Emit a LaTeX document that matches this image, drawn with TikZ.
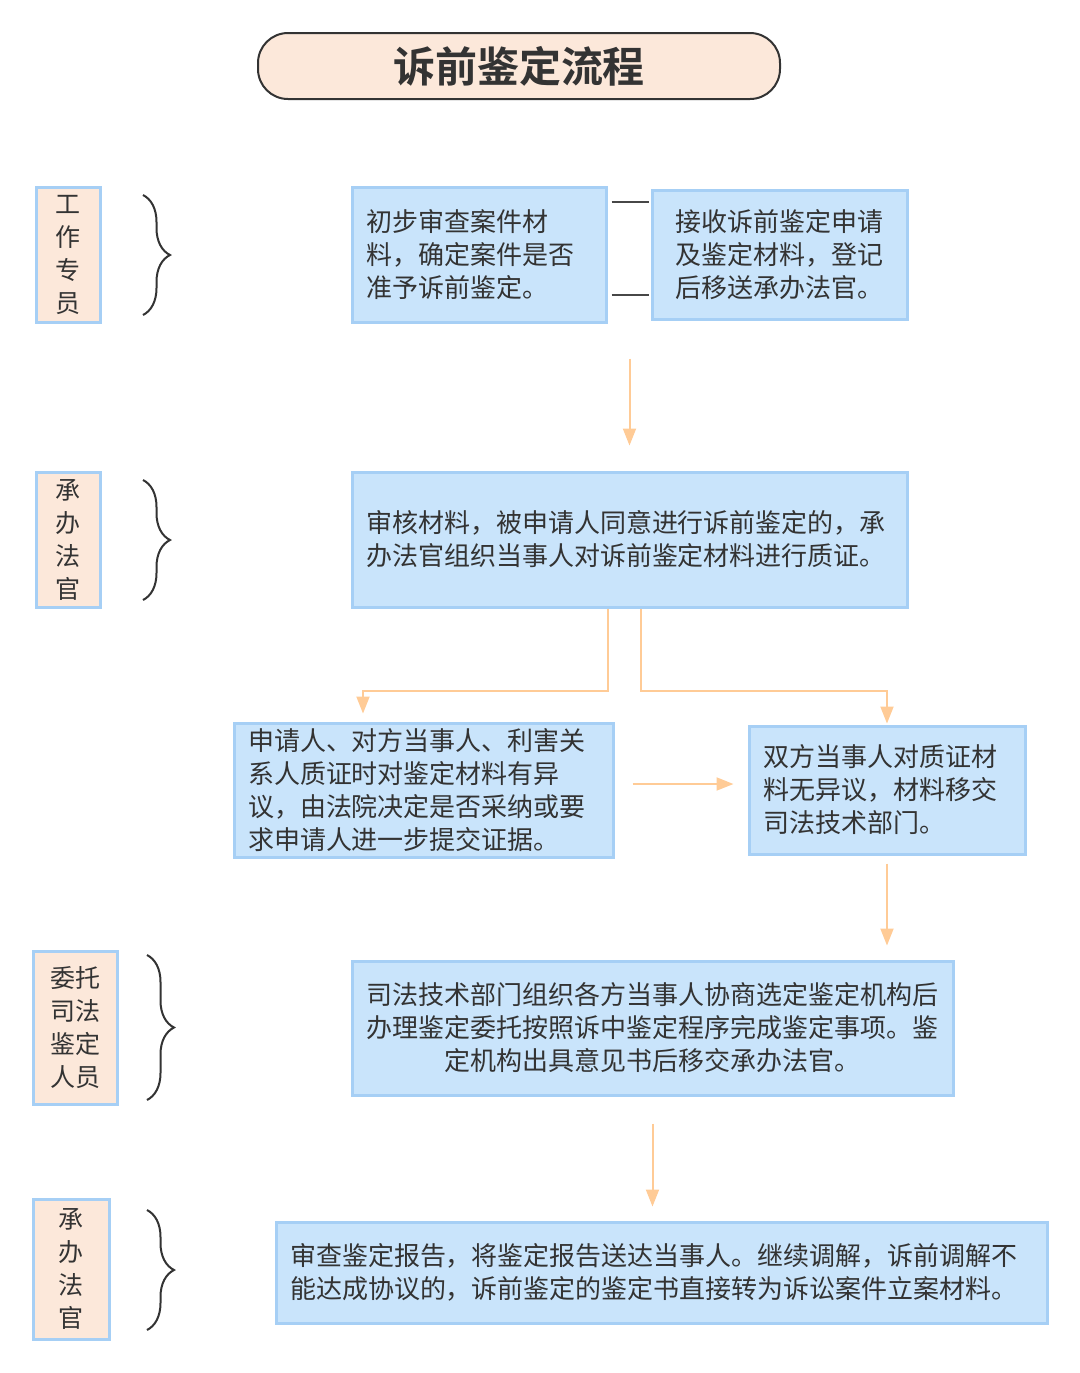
\documentclass[tikz,border=0pt]{standalone}
\usepackage{fontspec}
\setmainfont{Noto Sans CJK SC}[BoldFont={Noto Sans CJK SC Bold}]
\usetikzlibrary{arrows.meta,decorations.pathreplacing}
\definecolor{boxblue}{HTML}{C9E4FB}
\definecolor{lineblue}{HTML}{A6CFF5}
\definecolor{peach}{HTML}{FCE8DA}
\definecolor{flowline}{HTML}{FFCB96}
\definecolor{ink}{HTML}{333333}

\begin{document}
\begin{tikzpicture}[
	x=0.5pt,y=-0.5pt,
	titlenode/.style={
		rectangle,minimum width=261pt,minimum height=33pt,rounded corners=15pt,
		draw=ink,line width=1pt,fill=peach,text=ink,
		font=\fontsize{21}{24}\selectfont\bfseries},
	rolenode/.style={
		rectangle,draw=lineblue,line width=1.5pt,fill=peach,text=ink,
		align=center,inner sep=0pt,font=\fontsize{12.5}{16.5}\selectfont},
	stepnode/.style={
		rectangle,draw=lineblue,line width=1.5pt,fill=boxblue,text=ink,
		align=left,inner xsep=7pt,inner ysep=0pt,
		font=\fontsize{13}{16.5}\selectfont},
	flow/.style={-{Triangle[width=6.5pt,length=8.5pt]},line width=1pt,draw=flowline},
	tie/.style={line width=1pt,draw=ink!90},
	bracket/.style={decorate,decoration={brace,amplitude=13.5pt},line width=1pt,draw=ink}
	]
	\useasboundingbox (0,0) rectangle (1080,1373);
	% title
	\node [titlenode] (title) at (519,66) {诉前鉴定流程};
	% roles
	\node [rolenode, minimum width=32pt, minimum height=67.5pt] (staff) at (68,254.5) {工\\作\\专\\员};
	\node [rolenode, minimum width=32pt, minimum height=67.5pt] (judge) at (68,539.5) {承\\办\\法\\官};
	\node [rolenode, minimum width=42pt, minimum height=76.5pt] (expert) at (75,1027.5) {委托\\司法\\鉴定\\人员};
	\node [rolenode, minimum width=38pt, minimum height=70pt] (judgeb) at (71,1269) {承\\办\\法\\官};
	\draw [bracket] (143,195) -- (143,315);
	\draw [bracket] (143,480) -- (143,600);
	\draw [bracket] (147,955) -- (147,1100);
	\draw [bracket] (147,1210) -- (147,1330);
	% steps
	\node [stepnode, text width=113pt, minimum height=67.5pt] (check) at (479,254.5)
		{初步审查案件材\\料，确定案件是否\\准予诉前鉴定。};
	\node [stepnode, inner xsep=11.75pt, text width=104pt, minimum height=64.5pt] (receive) at (779.5,254.5)
		{接收诉前鉴定申请\\及鉴定材料，登记\\后移送承办法官。};
	\node [stepnode, text width=263.5pt, minimum height=67.5pt] (review) at (629.5,539.5)
		{审核材料，被申请人同意进行诉前鉴定的，承\\办法官组织当事人对诉前鉴定材料进行质证。};
	\node [stepnode, text width=175.5pt, minimum height=67pt] (dispute) at (423.5,790)
		{申请人、对方当事人、利害关\\系人质证时对鉴定材料有异\\议，由法院决定是否采纳或要\\求申请人进一步提交证据。};
	\node [stepnode, text width=124pt, minimum height=64pt] (agree) at (887,790)
		{双方当事人对质证材\\料无异议，材料移交\\司法技术部门。};
	\node [stepnode, align=center, text width=286.5pt, minimum height=67pt] (entrust) at (652.5,1028)
		{司法技术部门组织各方当事人协商选定鉴定机构后\\办理鉴定委托按照诉中鉴定程序完成鉴定事项。鉴\\定机构出具意见书后移交承办法官。};
	\node [stepnode, text width=371.5pt, minimum height=50.5pt] (report) at (661.5,1272.5)
		{审查鉴定报告，将鉴定报告送达当事人。继续调解，诉前调解不\\能达成协议的，诉前鉴定的鉴定书直接转为诉讼案件立案材料。};
	% links
	\draw [tie, shorten <=2pt, shorten >=1pt] ([yshift=26.25pt]check.east) -- ([yshift=26.25pt]check.east -| receive.west);
	\draw [tie, shorten <=2pt, shorten >=1pt] ([yshift=-20.25pt]check.east) -- ([yshift=-20.25pt]check.east -| receive.west);
	\draw [flow, shorten <=17.5pt, shorten >=12.5pt] (review.north |- check.south) -- (review.north);
	\draw [flow, shorten >=4pt] ([xshift=-10.75pt]review.south) -- ++(0,82) -| ([xshift=-30.25pt]dispute.north);
	\draw [flow, shorten >=0.5pt] ([xshift=5.75pt]review.south) -- ++(0,82) -| (agree.north);
	\draw [flow, shorten <=9pt, shorten >=7pt] ([yshift=3pt]dispute.east) -- ([yshift=3pt]dispute.east -| agree.west);
	\draw [flow, shorten <=4pt, shorten >=7pt] (agree.south) -- (agree.south |- entrust.north);
	\draw [flow, shorten <=13.5pt, shorten >=7pt] (entrust.south) -- (entrust.south |- report.north);
\end{tikzpicture}
\end{document}
